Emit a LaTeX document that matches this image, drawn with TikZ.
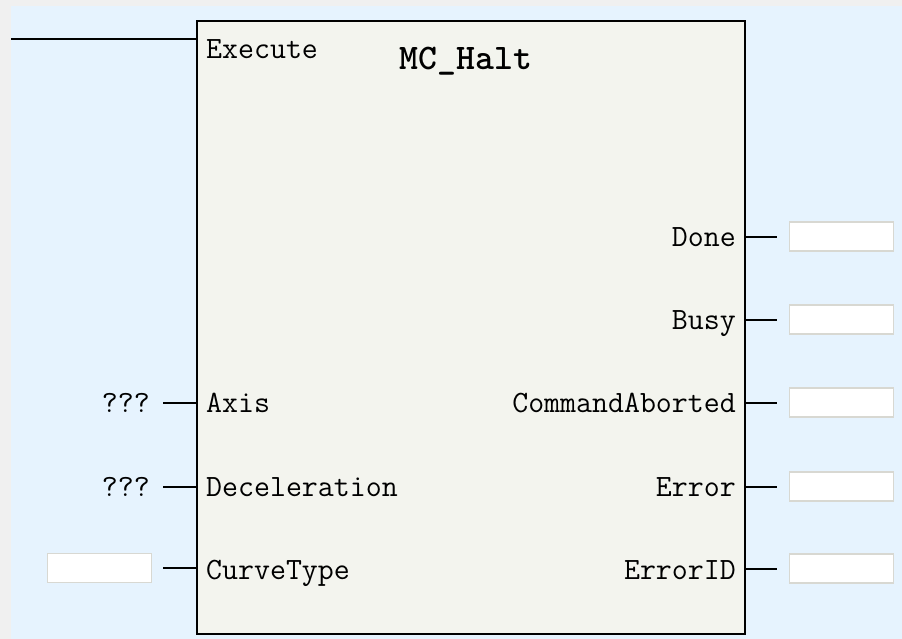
\documentclass[tikz,border=0pt]{standalone}
\usepackage{fontspec}
\usepackage{tikz}
\usetikzlibrary{positioning,calc}
\usepackage{xcolor}
\definecolor{pagegray}{HTML}{F0F0F0}
\definecolor{sheetblue}{HTML}{E6F3FE}
\definecolor{fbfill}{HTML}{F3F4EE}
\definecolor{slotedge}{HTML}{D8D8D2}
\tikzset{
  pin/.style={inner sep=0pt,font=\ttfamily\fontsize{31}{37}\selectfont,text height=19pt,text depth=0pt},
  slot/.style={draw=slotedge,line width=1.5pt,fill=white,minimum width=104pt,minimum height=29pt,inner sep=0pt},
  wire/.style={line width=2pt,black}
}
\begin{document}
\begin{tikzpicture}[x=1pt,y=-1pt]
\useasboundingbox (0,0) rectangle (902,639);
\fill[pagegray] (0,0) rectangle (902,639);
\fill[sheetblue] (11,6) rectangle (902,639);
% function block
\node (fb) [draw,line width=2pt,fill=fbfill,minimum width=548pt,minimum height=613pt,inner sep=0pt,anchor=north west] at (196,20) {};
\node (title) [inner sep=0pt,font=\ttfamily\bfseries\fontsize{36}{42}\selectfont] at (466,61) {MC\_Halt};
% inputs
\node (iExec) [pin,anchor=west] at (206,49) {Execute};
\node (iAxis) [pin,anchor=west] at (206,403) {Axis};
\node (iDecel) [pin,anchor=west] at (206,487) {Deceleration};
\node (iCurve) [pin,anchor=west] at (206,570) {CurveType};
\coordinate (execIn) at (11,39);
\node (vAxis) [pin,anchor=east] at (150,403) {???};
\node (vDecel) [pin,anchor=east] at (150,487) {???};
\node (vCurve) [slot] at (99.5,568) {};
\draw[wire] (execIn) -- (fb.west |- execIn);
\draw[wire] ([xshift=13pt]vAxis.east) -- (fb.west |- vAxis);
\draw[wire] ([xshift=13pt]vDecel.east) -- (fb.west |- vDecel);
\draw[wire] ([xshift=11pt]vCurve.east) -- (fb.west |- vCurve);
% outputs
\node (oDone) [pin,anchor=east] at (736,237) {Done};
\node (oBusy) [pin,anchor=east] at (736,320) {Busy};
\node (oAbort) [pin,anchor=east] at (736,403) {CommandAborted};
\node (oErr) [pin,anchor=east] at (736,487) {Error};
\node (oErrID) [pin,anchor=east] at (736,570) {ErrorID};
\node (vDone) [slot] at (841.5,236.5) {};
\node (vBusy) [slot] at (841.5,319.5) {};
\node (vAbort) [slot] at (841.5,402.5) {};
\node (vErr) [slot] at (841.5,486.5) {};
\node (vErrID) [slot] at (841.5,568.5) {};
\draw[wire] (fb.east |- vDone) -- ([xshift=-12pt]vDone.west);
\draw[wire] (fb.east |- vBusy) -- ([xshift=-12pt]vBusy.west);
\draw[wire] (fb.east |- vAbort) -- ([xshift=-12pt]vAbort.west);
\draw[wire] (fb.east |- vErr) -- ([xshift=-12pt]vErr.west);
\draw[wire] (fb.east |- vErrID) -- ([xshift=-12pt]vErrID.west);
\end{tikzpicture}
\end{document}
